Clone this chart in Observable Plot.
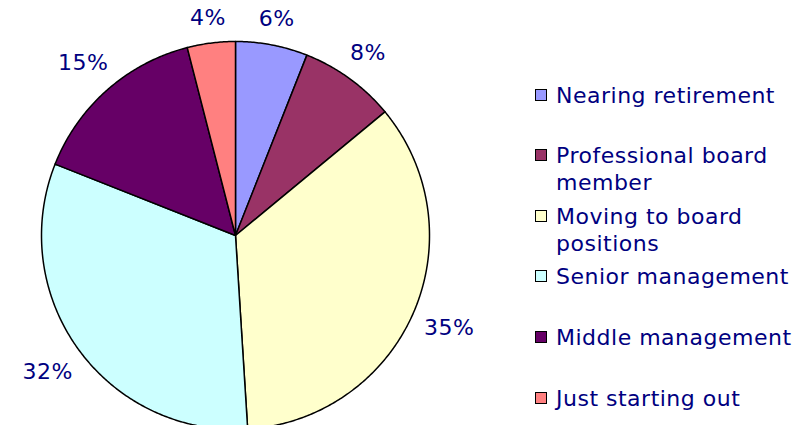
<!DOCTYPE html>
<html><head><meta charset="utf-8">
<script src="https://cdn.jsdelivr.net/npm/d3@7"></script>
<script src="https://cdn.jsdelivr.net/npm/@observablehq/plot@0.6"></script>
<style>
body{margin:0;background:#fff;}
#wrap{position:relative;width:801px;height:425px;overflow:hidden;font-family:"DejaVu Sans",Verdana,sans-serif;}
#chart{position:absolute;left:0;top:0;}
#legend{position:absolute;left:535px;top:0;}
.item{position:absolute;left:0;display:flex;align-items:flex-start;width:266px;}
.sw{width:10px;height:10px;border:1.5px solid #000;margin-top:7px;flex:none;}
.lab{color:#000080;font-size:22px;line-height:27px;width:240px;margin-left:9px;letter-spacing:0.5px;}
</style>
</head><body>
<div id="wrap"><div id="chart"></div><div id="legend"></div></div>
<script>
const categories = ["Nearing retirement","Professional board member","Moving to board positions","Senior management","Middle management","Just starting out"];
const values = [6, 8, 35, 32, 15, 4];
const colors = ["#9999FF","#993366","#FFFFCC","#CCFFFF","#660066","#FF8080"];
const labelTexts = ["6%","8%","35%","32%","15%","4%"];

const R = 194, cx = 235, cy = 235, fs = 22;
const total = d3.sum(values);
const pts = [];
const labs = [];
let acc = 0;
values.forEach((v, i) => {
  const a0 = acc / total * 2 * Math.PI;
  acc += v;
  const a1 = acc / total * 2 * Math.PI;
  const n = Math.max(2, Math.ceil((a1 - a0) / (Math.PI / 360)));
  pts.push({cat: categories[i], x: 0, y: 0});
  for (let k = 0; k <= n; k++) {
    const a = a0 + (a1 - a0) * k / n;
    pts.push({cat: categories[i], x: Math.sin(a), y: Math.cos(a)});
  }
  const m = (a0 + a1) / 2;
  const t = labelTexts[i];
  const w = ((t.length - 1) * 0.636 + 0.95) * fs;
  const hw = w / 2, hh = 11;
  const rr = R + 12 + hw * Math.abs(Math.sin(m)) + hh * Math.abs(Math.cos(m));
  labs.push({text: t, x: rr * Math.sin(m) / R, y: rr * Math.cos(m) / R});
});

const chart = Plot.plot({
  width: 801, height: 425,
  marginTop: 0, marginBottom: 0, marginLeft: 0, marginRight: 0,
  x: {domain: [-1, 1], range: [cx - R, cx + R], axis: null},
  y: {domain: [-1, 1], range: [cy + R, cy - R], axis: null},
  color: {domain: categories, range: colors},
  style: {fontFamily: '"DejaVu Sans", Verdana, sans-serif', background: "transparent", letterSpacing: "0.5px"},
  marks: [
    Plot.line(pts, {x: "x", y: "y", z: "cat", fill: "cat", stroke: "#000", strokeWidth: 1.5, curve: "linear-closed"}),
    Plot.text(labs, {x: "x", y: "y", text: "text", fill: "#000080", fontSize: fs})
  ]
});
document.getElementById("chart").appendChild(chart);

const legend = document.getElementById("legend");
categories.forEach((c, i) => {
  const it = document.createElement("div");
  it.className = "item";
  it.style.top = (95 + i * 60.6 - 13.5) + "px";
  const sw = document.createElement("div");
  sw.className = "sw";
  sw.style.background = colors[i];
  const lb = document.createElement("div");
  lb.className = "lab";
  lb.textContent = c;
  it.appendChild(sw); it.appendChild(lb);
  legend.appendChild(it);
});
</script>
</body></html>
